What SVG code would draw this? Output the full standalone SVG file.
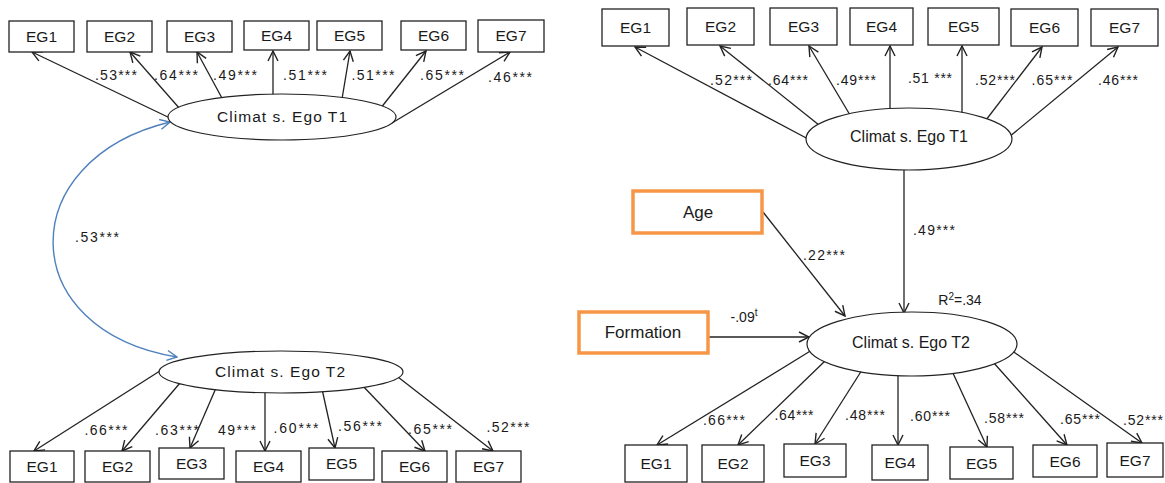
<svg xmlns="http://www.w3.org/2000/svg" width="1165" height="483" viewBox="0 0 1165 483">
<style>
  text { font-family: "Liberation Sans", Arial, sans-serif; fill: #1a1a1a; }
  .box { fill: #fff; stroke: #222; stroke-width: 1.3; }
  .obox { fill: #fff; stroke: #F79646; stroke-width: 3.5; }
  .ov { fill: #fff; stroke: #222; stroke-width: 1.2; }
  .lbl { font-size: 15.5px; text-anchor: middle; }
  .lat { font-size: 15.5px; text-anchor: middle; }
  .lat2 { font-size: 16px; text-anchor: middle; }
  .cov { font-size: 17px; text-anchor: middle; }
  .cf { font-size: 14px; text-anchor: middle; }
  .arr { stroke: #222; stroke-width: 1.3; fill: none; marker-end: url(#ah); }
  .cor { stroke: #4F81BD; stroke-width: 1.4; fill: none; marker-start: url(#bh); marker-end: url(#bh); }
</style>
<defs>
  <marker id="ah" viewBox="0 0 12 12" refX="11" refY="6" markerWidth="12" markerHeight="12" markerUnits="userSpaceOnUse" orient="auto">
    <path d="M1,1 L11,6 L1,11" fill="none" stroke="#222" stroke-width="1.4"/>
  </marker>
  <marker id="bh" viewBox="0 0 12 12" refX="11" refY="6" markerWidth="12" markerHeight="12" markerUnits="userSpaceOnUse" orient="auto-start-reverse">
    <path d="M1,1 L11,6 L1,11" fill="none" stroke="#4F81BD" stroke-width="1.4"/>
  </marker>
</defs>
<rect width="1165" height="483" fill="#fff"/>

<g id="connectors">
  <!-- left T1 -->
  <line class="arr" x1="172" y1="119" x2="32" y2="52"/>
  <line class="arr" x1="180" y1="109" x2="130" y2="52"/>
  <line class="arr" x1="223" y1="100" x2="197" y2="52"/>
  <line class="arr" x1="273" y1="96" x2="273" y2="51"/>
  <line class="arr" x1="342" y1="99" x2="350" y2="51"/>
  <line class="arr" x1="380" y1="109" x2="426" y2="51"/>
  <line class="arr" x1="392" y1="123" x2="510" y2="52"/>
  <!-- left T2 -->
  <line class="arr" x1="163" y1="369" x2="34" y2="451"/>
  <line class="arr" x1="180" y1="383" x2="122" y2="451"/>
  <line class="arr" x1="216" y1="388" x2="190" y2="448"/>
  <line class="arr" x1="265" y1="390" x2="265" y2="451"/>
  <line class="arr" x1="322" y1="389" x2="335" y2="448"/>
  <line class="arr" x1="361" y1="384" x2="425" y2="451"/>
  <line class="arr" x1="398" y1="377" x2="493" y2="451"/>
  <!-- covariance -->
  <path class="cor" d="M170,122 C13,160 13,330 177,357"/>
  <!-- right T1 -->
  <line class="arr" x1="810" y1="140" x2="635" y2="47"/>
  <line class="arr" x1="819" y1="125" x2="720" y2="46"/>
  <line class="arr" x1="850" y1="115" x2="809" y2="46"/>
  <line class="arr" x1="890" y1="110" x2="890" y2="46"/>
  <line class="arr" x1="962" y1="114" x2="962" y2="46"/>
  <line class="arr" x1="986" y1="120" x2="1042" y2="47"/>
  <line class="arr" x1="1009" y1="137" x2="1118" y2="47"/>
  <!-- structural -->
  <line class="arr" x1="904" y1="168" x2="904" y2="313"/>
  <line class="arr" x1="763" y1="212" x2="845" y2="316"/>
  <line class="arr" x1="708" y1="337" x2="809" y2="337"/>
  <!-- right T2 -->
  <line class="arr" x1="812" y1="350" x2="657" y2="445"/>
  <line class="arr" x1="825" y1="361" x2="738" y2="445"/>
  <line class="arr" x1="862" y1="370" x2="815" y2="444"/>
  <line class="arr" x1="898" y1="374" x2="898" y2="445"/>
  <line class="arr" x1="952" y1="371" x2="987" y2="447"/>
  <line class="arr" x1="993" y1="362" x2="1067" y2="445"/>
  <line class="arr" x1="1011" y1="350" x2="1142" y2="443"/>

  <!-- coefficient labels -->
  <g class="cf">
    <text x="116" y="80" textLength="42">.53***</text>
    <text x="176" y="80" textLength="44">.64***</text>
    <text x="235" y="80" textLength="44">.49***</text>
    <text x="305" y="80" textLength="44">.51***</text>
    <text x="373" y="80" textLength="43">.51***</text>
    <text x="442" y="80" textLength="44">.65***</text>
    <text x="510" y="82" textLength="44">.46***</text>

    <text x="97" y="242" textLength="44">.53***</text>

    <text x="106" y="435" textLength="43">.66***</text>
    <text x="177" y="435" textLength="44">.63***</text>
    <text x="237" y="435" textLength="38">49***</text>
    <text x="296" y="433" textLength="45">.60***</text>
    <text x="360" y="431" textLength="44">.56***</text>
    <text x="430" y="434" textLength="44">.65***</text>
    <text x="508" y="432" textLength="43">.52***</text>

    <text x="731" y="85" textLength="42">.52***</text>
    <text x="788" y="85" textLength="40">.64***</text>
    <text x="856" y="85" textLength="40">.49***</text>
    <text x="930" y="83" textLength="44">.51 ***</text>
    <text x="995" y="85" textLength="40">.52***</text>
    <text x="1052" y="85" textLength="41">.65***</text>
    <text x="1118" y="85" textLength="40">.46***</text>

    <text x="934" y="235" textLength="42">.49***</text>
    <text x="824" y="260" textLength="42">.22***</text>
    <text x="744" y="322">-.09<tspan font-size="10" dy="-6">t</tspan></text>
    <text x="960" y="305" font-size="14px">R<tspan font-size="10" dy="-5">2</tspan><tspan dy="5">=.34</tspan></text>

    <text x="724" y="425" textLength="42">.66***</text>
    <text x="794" y="420" textLength="39">.64***</text>
    <text x="865" y="420" textLength="40">.48***</text>
    <text x="930" y="421" textLength="40">.60***</text>
    <text x="1004" y="423" textLength="40">.58***</text>
    <text x="1080" y="424" textLength="40">.65***</text>
    <text x="1143" y="425" textLength="40">.52***</text>
  </g>
</g>

<!-- Left panel nodes -->
<g id="L_T1"><ellipse class="ov" cx="282" cy="117" rx="114" ry="23"/><text class="lat" x="282" y="122" textLength="130">Climat s. Ego T1</text></g>
<g id="L_T2"><ellipse class="ov" cx="281" cy="372" rx="122" ry="21"/><text class="lat" x="280" y="377" textLength="130">Climat s. Ego T2</text></g>

<g id="L_top_EG1"><rect class="box" x="9" y="21" width="65" height="31"/><text class="lbl" x="41.5" y="42">EG1</text></g>
<g id="L_top_EG2"><rect class="box" x="87" y="21" width="65" height="31"/><text class="lbl" x="119.5" y="42">EG2</text></g>
<g id="L_top_EG3"><rect class="box" x="167" y="21" width="65" height="31"/><text class="lbl" x="199.5" y="42">EG3</text></g>
<g id="L_top_EG4"><rect class="box" x="244" y="21" width="65" height="29"/><text class="lbl" x="276.5" y="41">EG4</text></g>
<g id="L_top_EG5"><rect class="box" x="317" y="21" width="65" height="29"/><text class="lbl" x="349.5" y="41">EG5</text></g>
<g id="L_top_EG6"><rect class="box" x="401" y="21" width="65" height="29"/><text class="lbl" x="433.5" y="41">EG6</text></g>
<g id="L_top_EG7"><rect class="box" x="478" y="20" width="66" height="32"/><text class="lbl" x="511" y="41">EG7</text></g>

<g id="L_bot_EG1"><rect class="box" x="10" y="451" width="64" height="31"/><text class="lbl" x="42" y="472">EG1</text></g>
<g id="L_bot_EG2"><rect class="box" x="85" y="451" width="65" height="31"/><text class="lbl" x="117.5" y="472">EG2</text></g>
<g id="L_bot_EG3"><rect class="box" x="159" y="448" width="65" height="31"/><text class="lbl" x="191.5" y="469">EG3</text></g>
<g id="L_bot_EG4"><rect class="box" x="236" y="451" width="65" height="31"/><text class="lbl" x="268.5" y="472">EG4</text></g>
<g id="L_bot_EG5"><rect class="box" x="309" y="448" width="65" height="32"/><text class="lbl" x="341.5" y="469">EG5</text></g>
<g id="L_bot_EG6"><rect class="box" x="382" y="451" width="65" height="31"/><text class="lbl" x="414.5" y="472">EG6</text></g>
<g id="L_bot_EG7"><rect class="box" x="456" y="451" width="65" height="31"/><text class="lbl" x="488.5" y="472">EG7</text></g>

<!-- Right panel nodes -->
<g id="R_T1"><ellipse class="ov" cx="909" cy="139" rx="103" ry="31"/><text class="lat2" x="909" y="142">Climat s. Ego T1</text></g>
<g id="R_T2"><ellipse class="ov" cx="912" cy="344" rx="105" ry="32"/><text class="lat2" x="911" y="348">Climat s. Ego T2</text></g>
<g id="R_Age"><rect class="obox" x="633" y="191" width="129" height="42"/><text class="cov" x="698" y="218">Age</text></g>
<g id="R_Formation"><rect class="obox" x="579" y="312" width="129" height="41"/><text class="cov" x="643" y="338">Formation</text></g>

<g id="R_top_EG1"><rect class="box" x="602" y="9" width="67" height="37"/><text class="lbl" x="635.5" y="33">EG1</text></g>
<g id="R_top_EG2"><rect class="box" x="687" y="8" width="67" height="37"/><text class="lbl" x="720.5" y="32">EG2</text></g>
<g id="R_top_EG3"><rect class="box" x="770" y="8" width="67" height="37"/><text class="lbl" x="803.5" y="32">EG3</text></g>
<g id="R_top_EG4"><rect class="box" x="850" y="8" width="63" height="37"/><text class="lbl" x="881.5" y="32">EG4</text></g>
<g id="R_top_EG5"><rect class="box" x="928" y="8" width="71" height="37"/><text class="lbl" x="963.5" y="32">EG5</text></g>
<g id="R_top_EG6"><rect class="box" x="1011" y="9" width="67" height="37"/><text class="lbl" x="1044.5" y="33">EG6</text></g>
<g id="R_top_EG7"><rect class="box" x="1091" y="9" width="67" height="37"/><text class="lbl" x="1124.5" y="33">EG7</text></g>

<g id="R_bot_EG1"><rect class="box" x="625" y="445" width="62" height="37"/><text class="lbl" x="656" y="469">EG1</text></g>
<g id="R_bot_EG2"><rect class="box" x="702" y="445" width="62" height="37"/><text class="lbl" x="733" y="469">EG2</text></g>
<g id="R_bot_EG3"><rect class="box" x="784" y="444" width="62" height="33"/><text class="lbl" x="815" y="466">EG3</text></g>
<g id="R_bot_EG4"><rect class="box" x="872" y="445" width="56" height="35"/><text class="lbl" x="900" y="468">EG4</text></g>
<g id="R_bot_EG5"><rect class="box" x="950" y="447" width="63" height="32"/><text class="lbl" x="981.5" y="469">EG5</text></g>
<g id="R_bot_EG6"><rect class="box" x="1033" y="445" width="64" height="32"/><text class="lbl" x="1065" y="467">EG6</text></g>
<g id="R_bot_EG7"><rect class="box" x="1107" y="443" width="56" height="34"/><text class="lbl" x="1135" y="466">EG7</text></g>
</svg>
